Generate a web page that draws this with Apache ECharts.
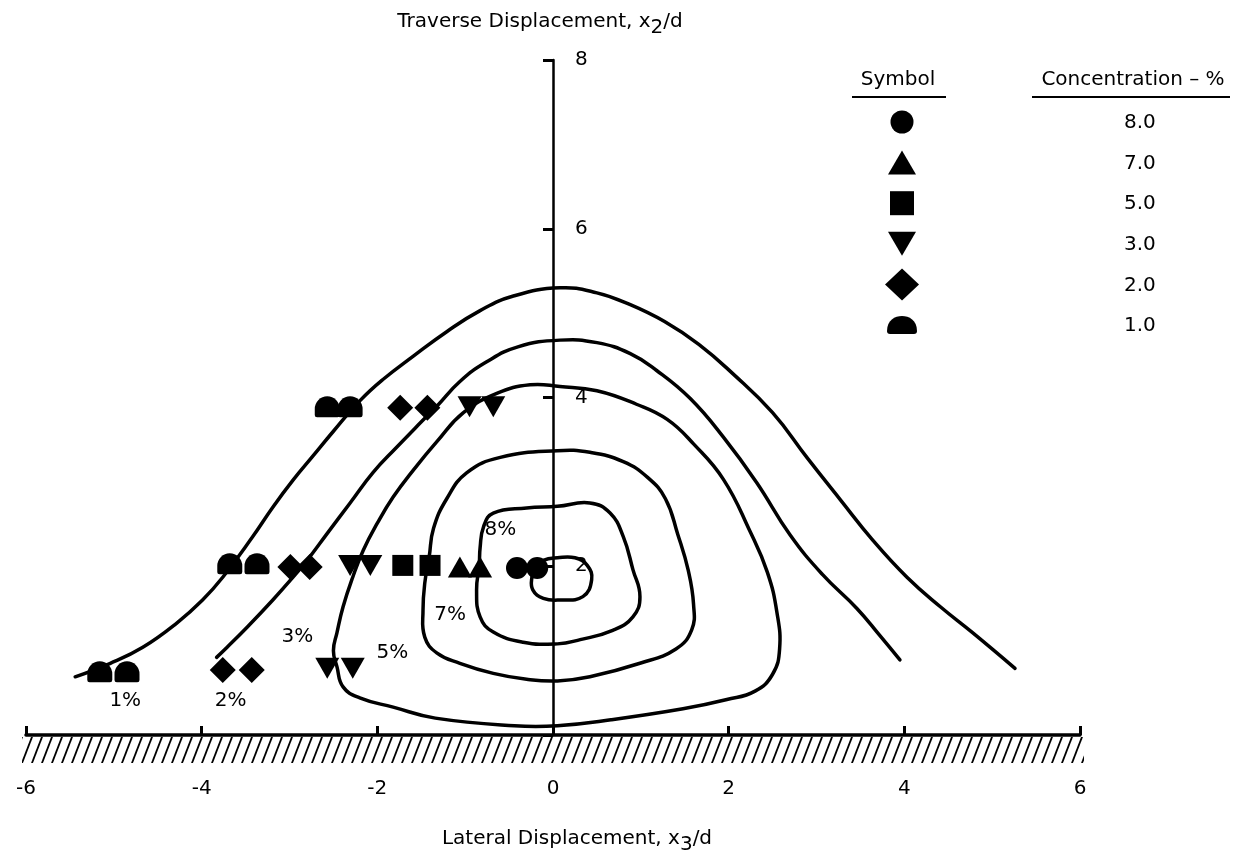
<!DOCTYPE html>
<html><head><meta charset="utf-8">
<script src="https://cdn.jsdelivr.net/npm/echarts@6/dist/echarts.min.js"></script>
<style>html,body{margin:0;padding:0;background:#fff}#c{width:1247px;height:856px}</style>
</head><body><div id="c"></div>
<script>
// ---- data (x3/d, x2/d) ----
const xTickValues = [-6, -4, -2, 0, 2, 4, 6];
const yTickValues = [2, 4, 6, 8];

// open contours (1 %, 2 %) and closed contours (3 %, 5 %, 7 %, 8 %)
const curve1 = [[-5.44,0.69],[-5.04,0.85],[-4.67,1.04],[-4.28,1.33],[-3.99,1.60],[-3.76,1.87],[-3.42,2.35],[-3.19,2.70],[-2.96,3.02],[-2.73,3.31],[-2.50,3.60],[-2.20,3.96],[-1.94,4.21],[-1.59,4.49],[-1.21,4.78],[-0.83,5.03],[-0.46,5.20],[0.08,5.30],[0.50,5.24],[0.88,5.10],[1.27,4.90],[1.66,4.63],[2.05,4.28],[2.50,3.82],[2.89,3.29],[3.27,2.79],[3.64,2.31],[4.03,1.87],[4.41,1.52],[4.78,1.21],[5.26,0.79]];
const curve2 = [[-3.83,0.92],[-3.71,1.04],[-3.48,1.28],[-3.19,1.60],[-2.96,1.87],[-2.80,2.07],[-2.57,2.39],[-2.31,2.75],[-2.05,3.11],[-1.78,3.41],[-1.51,3.70],[-1.32,3.90],[-1.06,4.19],[-0.76,4.42],[-0.40,4.60],[0.08,4.68],[0.50,4.65],[0.88,4.52],[1.18,4.32],[1.56,3.99],[1.94,3.53],[2.32,2.99],[2.70,2.37],[3.07,1.90],[3.46,1.50],[3.72,1.18],[3.95,0.89]];
const curve3 = [[-1.02,3.82],[-0.64,4.05],[-0.26,4.15],[0.08,4.13],[0.50,4.08],[0.95,3.92],[1.30,3.74],[1.60,3.45],[1.94,3.03],[2.24,2.42],[2.44,1.93],[2.55,1.45],[2.58,1.02],[2.50,0.72],[2.30,0.52],[1.98,0.42],[1.48,0.31],[0.66,0.18],[0.05,0.11],[-0.44,0.11],[-1.34,0.20],[-1.82,0.33],[-2.20,0.44],[-2.39,0.57],[-2.46,0.81],[-2.50,1.00],[-2.46,1.21],[-2.39,1.52],[-2.28,1.87],[-2.16,2.19],[-2.00,2.51],[-1.82,2.82],[-1.59,3.14],[-1.32,3.48]];
const curve5 = [[0.05,3.37],[0.42,3.35],[0.80,3.24],[1.08,3.05],[1.28,2.80],[1.42,2.38],[1.54,1.95],[1.60,1.55],[1.58,1.25],[1.40,1.02],[0.99,0.85],[0.42,0.69],[0.05,0.64],[-0.30,0.66],[-0.68,0.73],[-1.06,0.85],[-1.32,0.97],[-1.46,1.16],[-1.48,1.48],[-1.46,1.80],[-1.41,2.11],[-1.36,2.45],[-1.21,2.80],[-0.98,3.11],[-0.60,3.29]];
const curve7 = [[0.05,2.71],[0.42,2.75],[0.65,2.63],[0.80,2.35],[0.91,1.96],[0.99,1.64],[0.91,1.40],[0.68,1.24],[0.31,1.13],[0.05,1.08],[-0.34,1.10],[-0.68,1.22],[-0.83,1.40],[-0.87,1.72],[-0.84,2.01],[-0.83,2.22],[-0.79,2.47],[-0.68,2.63],[-0.30,2.69]];
const curve8 = [[-0.11,2.07],[0.05,2.10],[0.25,2.10],[0.39,2.01],[0.44,1.84],[0.34,1.64],[0.08,1.60],[-0.11,1.62],[-0.23,1.72],[-0.24,1.87],[-0.20,1.99]];

const pts8 = [[-0.41,1.98],[-0.18,1.98]];
const pts7 = [[-1.06,1.99],[-0.83,1.99]];
const pts5 = [[-1.71,2.01],[-1.40,2.01]];
const pts3 = [[-0.95,3.89],[-0.68,3.89],[-2.31,2.01],[-2.08,2.01],[-2.57,0.79],[-2.28,0.79]];
const pts2 = [[-1.74,3.88],[-1.43,3.88],[-2.99,1.99],[-2.77,1.99],[-3.76,0.77],[-3.43,0.77]];
const pts1 = [[-2.57,3.89],[-2.31,3.89],[-3.68,2.03],[-3.37,2.03],[-5.16,0.75],[-4.85,0.75]];

const concentrations = ['8.0', '7.0', '5.0', '3.0', '2.0', '1.0'];
const contourLabels = [[-0.60,2.43,'8%'],[-1.17,1.42,'7%'],[-1.83,0.98,'5%'],[-2.91,1.16,'3%'],[-3.67,0.41,'2%'],[-4.87,0.41,'1%']];

// ---- styling ----
const FONT = 'DejaVu Sans, Liberation Sans, sans-serif';
const FS = 20;
const domePath = 'path://M0,11 A11,11 0 0 1 22,11 L22,16 Q22,18 20,18 L2,18 Q0,18 0,16 Z';
const downTri = 'path://M0,0 L12,0 L6,10.4 Z';

const legendIcons = {
  '8.0': 'path://M0,0M34,32M5.5,16A11.5,11.5 0 1 1 28.5,16A11.5,11.5 0 1 1 5.5,16Z',
  '7.0': 'path://M0,0M34,32M17,4L31,28L3,28Z',
  '5.0': 'path://M0,0M34,32M5,4L29,4L29,28L5,28Z',
  '3.0': 'path://M0,0M34,32M3,4L31,4L17,28Z',
  '2.0': 'path://M17,0L34,16L17,32L0,16Z',
  '1.0': 'path://M0,0M34,32M2,22C2,11 10,7 17,7C24,7 32,11 32,22Q32,25 29,25L5,25Q2,25 2,22Z'
};

// smooth contour drawn through the axis scales (custom series, one path per curve)
function contourSeries(name, data, closed) {
  return {
    name, type: 'custom', data, z: 2, silent: true,
    encode: { x: 0, y: 1 },
    renderItem: function (params, api) {
      if (params.dataIndexInside !== 0) return null;
      const pts = [];
      for (let i = 0; i < params.dataInsideLength; i++) {
        pts.push(api.coord([api.value(0, i), api.value(1, i)]));
      }
      return {
        type: closed ? 'polygon' : 'polyline',
        shape: { points: pts, smooth: 0.45 },
        style: { fill: 'none', stroke: '#000', lineWidth: 3.5, lineJoin: 'round', lineCap: 'round' }
      };
    }
  };
}
function scatterSeries(name, data, symbol, size) {
  return { name, type: 'scatter', data, symbol, symbolSize: size, z: 5,
    itemStyle: { color: '#000', opacity: 1 } };
}

const GRID_LEFT = 26, GRID_RIGHT = 167;
const zeroX = GRID_LEFT + (1247 - GRID_LEFT - GRID_RIGHT) / 2;

const chart = echarts.init(document.getElementById('c'), null, { renderer: 'canvas' });
const option = {
  animation: false,
  backgroundColor: '#fff',
  textStyle: { fontFamily: FONT, color: '#000' },
  grid: { left: GRID_LEFT, right: GRID_RIGHT, top: 60, bottom: 121, containLabel: false, outerBoundsMode: 'none' },
  xAxis: {
    type: 'value', min: -6, max: 6, interval: 2,
    axisLine: { lineStyle: { color: '#000', width: 3.5 } },
    axisTick: { inside: true, length: 9, lineStyle: { color: '#000', width: 3 } },
    axisLabel: { margin: 44, fontSize: FS, color: '#000', fontFamily: FONT,
      formatter: v => xTickValues.includes(v) ? String(v) : '' },
    splitLine: { show: false },
    name: 'Lateral Displacement, x{sub|3}/d',
    nameLocation: 'middle', nameGap: 88,
    nameTextStyle: { fontSize: FS, color: '#000', fontFamily: FONT, padding: [0, 0, 0, 48],
      rich: { sub: { fontSize: FS, fontFamily: FONT, color: '#000', padding: [12, 0, 0, 0] } } }
  },
  yAxis: {
    type: 'value', min: 0, max: 8, interval: 2,
    offset: -(zeroX - GRID_LEFT),
    axisLine: { onZero: false, lineStyle: { color: '#000', width: 2.5 } },
    axisTick: { inside: false, length: 10, lineStyle: { color: '#000', width: 3 } },
    axisLabel: { inside: true, margin: 22, fontSize: FS, color: '#000', fontFamily: FONT,
      formatter: v => yTickValues.includes(v) ? String(v) : '' },
    splitLine: { show: false },
    name: 'Traverse Displacement, x{sub|2}/d',
    nameLocation: 'end', nameGap: 22,
    nameTextStyle: { fontSize: FS, color: '#000', fontFamily: FONT, padding: [0, 26, 0, 0],
      rich: { sub: { fontSize: FS, fontFamily: FONT, color: '#000', padding: [12, 0, 0, 0] } } }
  },
  legend: {
    orient: 'vertical', left: 880, top: 101,
    itemWidth: 34, itemHeight: 32, itemGap: 8.6,
    selectedMode: false,
    data: concentrations.map(c => ({ name: c, icon: legendIcons[c] })),
    formatter: n => '{v|' + n + '}',
    textStyle: { fontSize: FS, color: '#000', fontFamily: FONT,
      rich: { v: { fontSize: FS, color: '#000', fontFamily: FONT, padding: [2, 0, 0, 200] } } }
  },
  series: [
    contourSeries('c1', curve1, false), contourSeries('c2', curve2, false),
    contourSeries('c3', curve3, true), contourSeries('c5', curve5, true),
    contourSeries('c7', curve7, true), contourSeries('c8', curve8, true),
    scatterSeries('8.0', pts8, 'circle', 22),
    scatterSeries('7.0', pts7, 'triangle', [24, 21]),
    scatterSeries('5.0', pts5, 'rect', 21),
    scatterSeries('3.0', pts3, downTri, [24, 21]),
    scatterSeries('2.0', pts2, 'diamond', [26, 26]),
    scatterSeries('1.0', pts1, domePath, [25, 21]),
    { name: 'labels', type: 'scatter', symbolSize: 1, z: 6, silent: true,
      itemStyle: { color: '#fff', opacity: 0 },
      data: contourLabels.map(d => ({ value: [d[0], d[1]], name: d[2] })),
      label: { show: true, position: 'inside', formatter: p => p.name,
        fontSize: FS, color: '#000', opacity: 1, fontFamily: FONT } }
  ]
};
chart.setOption(option);

// hatching under the x axis and legend headers
const pL = chart.convertToPixel({ gridIndex: 0 }, [-6, 0]);
const pR = chart.convertToPixel({ gridIndex: 0 }, [6, 0]);
const tile = document.createElement('canvas');
tile.width = 10; tile.height = 26;
const tc = tile.getContext('2d');
tc.strokeStyle = '#000'; tc.lineWidth = 1.8;
for (const off of [-10, 0, 10]) {
  tc.beginPath(); tc.moveTo(off - 10, 52); tc.lineTo(off + 20, -26); tc.stroke();
}
chart.setOption({
  graphic: [
    { type: 'rect', id: 'hatch', x: pL[0] - 4, y: pL[1] + 2, silent: true,
      shape: { x: 0, y: 0, width: pR[0] - pL[0] + 8, height: 26 },
      style: { fill: { type: 'pattern', image: tile, repeat: 'repeat' } } },
    { type: 'text', id: 'h1', x: 898, y: 80, silent: true,
      style: { text: 'Symbol', fontSize: FS, fontFamily: FONT, fill: '#000', align: 'center', verticalAlign: 'middle' } },
    { type: 'text', id: 'h2', x: 1133, y: 80, silent: true,
      style: { text: 'Concentration – %', fontSize: FS, fontFamily: FONT, fill: '#000', align: 'center', verticalAlign: 'middle' } },
    { type: 'line', id: 'u1', silent: true, shape: { x1: 852, y1: 97, x2: 946, y2: 97 }, style: { stroke: '#000', lineWidth: 2 } },
    { type: 'line', id: 'u2', silent: true, shape: { x1: 1032, y1: 97, x2: 1230, y2: 97 }, style: { stroke: '#000', lineWidth: 2 } }
  ]
});
</script></body></html>
